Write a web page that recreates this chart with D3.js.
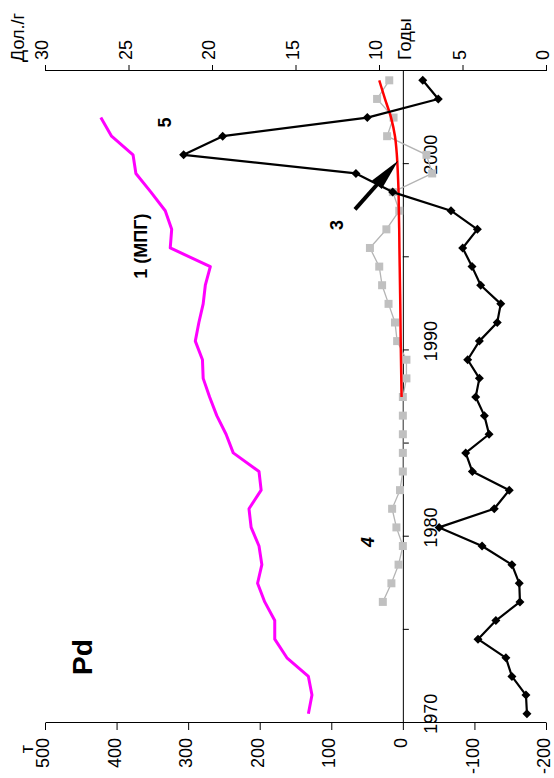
<!DOCTYPE html>
<html><head><meta charset="utf-8">
<script src="https://cdn.jsdelivr.net/npm/d3@7"></script>
<style>body{margin:0;background:#fff}</style>
</head><body><svg id="c" width="554" height="778"></svg>
<script>
// ---- data ----
const years = [1970,1971,1972,1973,1974,1975,1976,1977,1978,1979,1980,1981,1982,1983,1984,1985,1986,1987,1988,1989,1990,1991,1992,1993,1994,1995,1996,1997,1998,1999,2000,2001,2002,2003,2004];
// 1 (МПГ), t, 1970-2002
const mpgYears = [1970,1971,1972,1973,1974,1975,1976,1977,1978,1979,1980,1981,1982,1983,1984,1985,1986,1987,1988,1989,1990,1991,1992,1993,1994,1995,1996,1997,1998,1999,2000,2001,2002];
const mpgValues = [132,127,132,162,179,179,193,203,197,201,212,215,198,201,237,247,260,270,279,280,290,285,279,276,269,325,323,332,352,373,377,407,422];
// 4, t, 1976-2004
const s4Years = [1976,1977,1978,1979,1980,1981,1982,1983,1984,1985,1986,1987,1988,1989,1990,1991,1992,1993,1994,1995,1996,1997,1998,1999,2000,2001,2002,2003,2004];
const s4Values = [28,16,6,0,9,15,4,0,0,0,0,0,-5,-5,8,11,20,29,33,46,23,5,14,-41,-33,22,13,36,19];
// 3, t, 1987-2004
const s3Years = [1987,1988,1989,1990,1991,1992,1993,1994,1995,1996,1997,1998,1999,2000,2001,2002,2003,2004];
const s3Values = [1.8,2.2,2.6,3,3.3,3.6,4,4.4,4.8,5.1,5.6,6,7,8.4,11,16.5,25,33];
// 5, price $/g, 1970-2004
const priceValues = [1.14,1.2,2.04,2.4,4.07,3.0,1.56,1.6,2.04,3.83,6.4,3.1,2.2,4.41,4.81,3.41,3.69,4.21,3.99,4.69,3.99,2.92,2.71,3.91,4.43,4.99,4.11,5.69,9.18,11.38,21.7,19.36,10.7,6.45,7.38];

const tonTicks = [-200,-100,0,100,200,300,400,500];
const priceTicks = [0,5,10,15,20,25,30];
const yearTicks = [1970,1975,1980,1985,1990,1995,2000,2005];
const yearLabels = ["1970","1980","1990","2000"];

// annotations in data space (year, tons)
const labels = [
  {text:"Pd", year:1973.54, t:447, size:28, style:"normal"},
  {text:"1 (МПГ)", year:1995.6, t:366, size:18, style:"normal"},
  {text:"5", year:2002.23, t:332, size:18, style:"normal"},
  {text:"3", year:1996.73, t:92, size:18, style:"normal"},
  {text:"4", year:1979.72, t:49, size:18, style:"italic"}
];
const arrow = {from:[1997.57, 66.9], to:[2000.18, 6.6]};

// ---- chart ----
const FONT = '"Liberation Sans", Arial, sans-serif';
const W = 652, H = 501;
const svg = d3.select("#c");
const g = svg.append("g").attr("transform","translate(45,723) rotate(-90)");

const xBand = d3.scaleBand().domain(years.map(String)).range([0,W]).padding(0);
const xLin = d3.scaleLinear().domain([1970,2005]).range([0,W]);
const yT = d3.scaleLinear().domain([-200,500]).range([H,0]);
const yP = d3.scaleLinear().domain([0,30]).range([H,0]);
const cx = y => xBand(String(y)) + xBand.bandwidth()/2;

function styleAxis(sel){
  sel.attr("font-size",18).attr("font-family",FONT);
  sel.selectAll("path,line").attr("stroke","#000").attr("stroke-width",1);
  sel.selectAll("text").attr("fill","#000");
}

g.append("g").call(d3.axisLeft(yT).tickValues(tonTicks).tickFormat(d => String(d)).tickSize(7).tickPadding(8).tickSizeOuter(0))
  .call(styleAxis).selectAll("text").attr("dy","0.2em");
g.append("g").attr("transform",`translate(${W},0)`)
  .call(d3.axisRight(yP).tickValues(priceTicks).tickFormat(d => String(d)).tickSize(6).tickPadding(5).tickSizeOuter(0))
  .call(styleAxis).selectAll("text").attr("dy","0.15em");
g.append("g").attr("transform",`translate(0,${yT(0)})`)
  .call(d3.axisBottom(xLin).tickValues(yearTicks).tickFormat("").tickSize(6).tickSizeOuter(0)).call(styleAxis);
const yl = g.append("g").attr("transform",`translate(0,${yT(0)})`)
  .call(d3.axisBottom(xBand).tickValues(yearLabels).tickSize(0).tickPadding(21)).call(styleAxis);
yl.select(".domain").remove();

// axis titles
g.append("text").attr("x",-26).attr("y",-12).attr("text-anchor","middle")
  .attr("font-family",FONT).attr("font-size",18).text("т");
g.append("text").attr("x",661).attr("y",-21).attr("text-anchor","start")
  .attr("font-family",FONT).attr("font-size",18).text("Дол./г");
g.append("text").attr("x",663).attr("y",366).attr("text-anchor","start")
  .attr("font-family",FONT).attr("font-size",18).text("Годы");

// series 1 (МПГ)
const lineT = d3.line().x(d=>cx(d[0])).y(d=>yT(d[1]));
g.append("path").datum(d3.zip(mpgYears, mpgValues)).attr("d", lineT)
  .attr("fill","none").attr("stroke","#ff00ff").attr("stroke-width",3).attr("stroke-linejoin","round");

// series 4
g.append("path").datum(d3.zip(s4Years, s4Values)).attr("d", lineT)
  .attr("fill","none").attr("stroke","#b4b4b4").attr("stroke-width",1.3);
g.selectAll("rect.s4").data(d3.zip(s4Years, s4Values)).join("rect").attr("class","s4")
  .attr("x",d=>cx(d[0])-4).attr("y",d=>yT(d[1])-4).attr("width",8).attr("height",8)
  .attr("fill","#c0c0c0");

// series 3
g.append("path").datum(d3.zip(s3Years, s3Values))
  .attr("d", d3.line().x(d=>cx(d[0])).y(d=>yT(d[1])).curve(d3.curveMonotoneX))
  .attr("fill","none").attr("stroke","#ff0000").attr("stroke-width",2.5);

// series 5 price
const lineP = d3.line().x(d=>cx(d[0])).y(d=>yP(d[1]));
const pdata = d3.zip(years, priceValues);
g.append("path").datum(pdata).attr("d", lineP)
  .attr("fill","none").attr("stroke","#000").attr("stroke-width",2.2).attr("stroke-linejoin","round");
g.selectAll("path.dm").data(pdata).join("path").attr("class","dm")
  .attr("transform",d=>`translate(${cx(d[0])},${yP(d[1])})`)
  .attr("d","M0,-4.5L4.5,0L0,4.5L-4.5,0Z").attr("fill","#000");

// arrow
(function(){
  const x0 = xLin(arrow.from[0]), y0 = yT(arrow.from[1]);
  const x1 = xLin(arrow.to[0]), y1 = yT(arrow.to[1]);
  const dx = x1-x0, dy = y1-y0, L = Math.hypot(dx,dy);
  const ux = dx/L, uy = dy/L, hl = 32, hw = 6.5;
  const bx = x1-ux*hl, by = y1-uy*hl;
  g.append("line").attr("x1",x0).attr("y1",y0).attr("x2",bx+ux*2).attr("y2",by+uy*2)
    .attr("stroke","#000").attr("stroke-width",4);
  g.append("path").attr("d",`M${x1},${y1}L${bx-uy*hw},${by+ux*hw}L${bx+uy*hw},${by-ux*hw}Z`).attr("fill","#000");
})();

// labels
g.selectAll("text.lbl").data(labels).join("text").attr("class","lbl")
  .attr("x",d=>xLin(d.year)).attr("y",d=>yT(d.t))
  .attr("text-anchor","middle").attr("dominant-baseline","central")
  .attr("font-family",FONT).attr("font-weight","bold").attr("font-style",d=>d.style)
  .attr("font-size",d=>d.size).text(d=>d.text);
</script></body></html>
